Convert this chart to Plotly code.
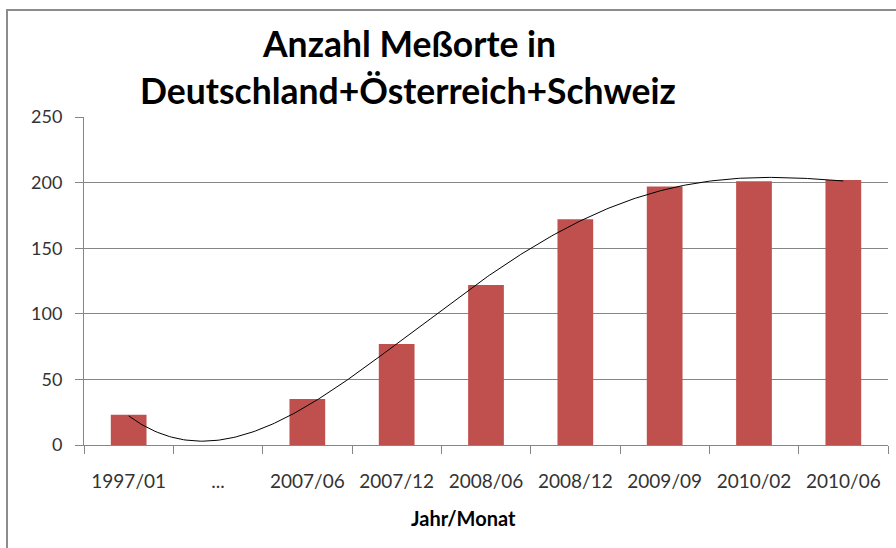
import numpy as np
import plotly.graph_objects as go

# ---- data ----
categories = ["1997/01", "...", "2007/06", "2007/12", "2008/06", "2008/12", "2009/09", "2010/02", "2010/06"]
values = [23, None, 35, 77, 122, 172, 197, 201, 202]
y_ticks = [0, 50, 100, 150, 200, 250]
title_lines = ["Anzahl Meßorte in", "Deutschland+Österreich+Schweiz"]
x_title = "Jahr/Monat"
trend_order = 4

# ---- polynomial trendline (blank cell treated as 0, as Excel does) ----
xi = np.arange(1, len(categories) + 1)
yi = np.array([v if v is not None else 0 for v in values], dtype=float)
coef = np.polyfit(xi, yi, trend_order)
xs = np.linspace(1, len(categories), 300)
ys = np.polyval(coef, xs)

fig = go.Figure()
fig.add_trace(go.Bar(x=categories, y=values, marker=dict(color="#C0504D", line=dict(width=0)),
                     showlegend=False, hoverinfo="x+y"))
fig.add_trace(go.Scatter(x=xs, y=ys, xaxis="x2", mode="lines",
                         line=dict(color="black", width=1), showlegend=False, hoverinfo="skip"))

W, H = 896, 548
L, R, T, B = 84, 8, 117, 103
pw, ph = W - L - R, H - T - B

def px(x):
    return (x - L) / pw

def py(y):
    return (H - B - y) / ph

xtickfont = dict(family="Lato, 'Open Sans', sans-serif", size=19, color="#333333")
ytickfont = dict(family="Lato, 'Open Sans', sans-serif", size=18, color="#333333")

fig.update_layout(
    width=W, height=H,
    margin=dict(l=L, r=R, t=T, b=B),
    paper_bgcolor="white", plot_bgcolor="white",
    bargap=0.6,
    xaxis=dict(type="category", categoryorder="array", categoryarray=categories,
               showline=True, linecolor="#868686", linewidth=1,
               ticks="outside", ticklen=8, tickcolor="#868686", tickson="boundaries",
               showgrid=False, tickfont=xtickfont, ticklabelstandoff=19, fixedrange=True),
    xaxis2=dict(overlaying="x", range=[0.5, len(categories) + 0.5], visible=False, fixedrange=True),
    yaxis=dict(range=[0, 250], tickvals=y_ticks, showline=True, linecolor="#868686", linewidth=1,
               ticks="outside", ticklen=8, tickcolor="#868686",
               showgrid=True, gridcolor="#868686", gridwidth=1, zeroline=False,
               tickfont=ytickfont, ticklabelstandoff=9, fixedrange=True),
)

tfont = dict(family="Lato, 'Open Sans', sans-serif", size=35.5, color="black")
fig.add_annotation(text="<b>" + title_lines[0] + "</b>", xref="paper", yref="paper",
                   x=px(409), y=py(43), xanchor="center", yanchor="middle", showarrow=False, font=tfont)
fig.add_annotation(text="<b>" + title_lines[1] + "</b>", xref="paper", yref="paper",
                   x=px(408), y=py(90), xanchor="center", yanchor="middle", showarrow=False, font=tfont)
fig.add_annotation(text="<b>" + x_title + "</b>", xref="paper", yref="paper",
                   x=px(463), y=py(518), xanchor="center", yanchor="middle", showarrow=False,
                   font=dict(family="Lato, 'Open Sans', sans-serif", size=20, color="black"))

# chart area border
fig.add_shape(type="rect", xref="paper", yref="paper", x0=px(7), x1=px(W + 10), y0=py(H + 10), y1=py(10),
              line=dict(color="#8c8c8c", width=2), fillcolor="rgba(0,0,0,0)", layer="above")

fig.write_html("out.html", config={"displayModeBar": False},
               post_script="document.body.style.margin='0';")
